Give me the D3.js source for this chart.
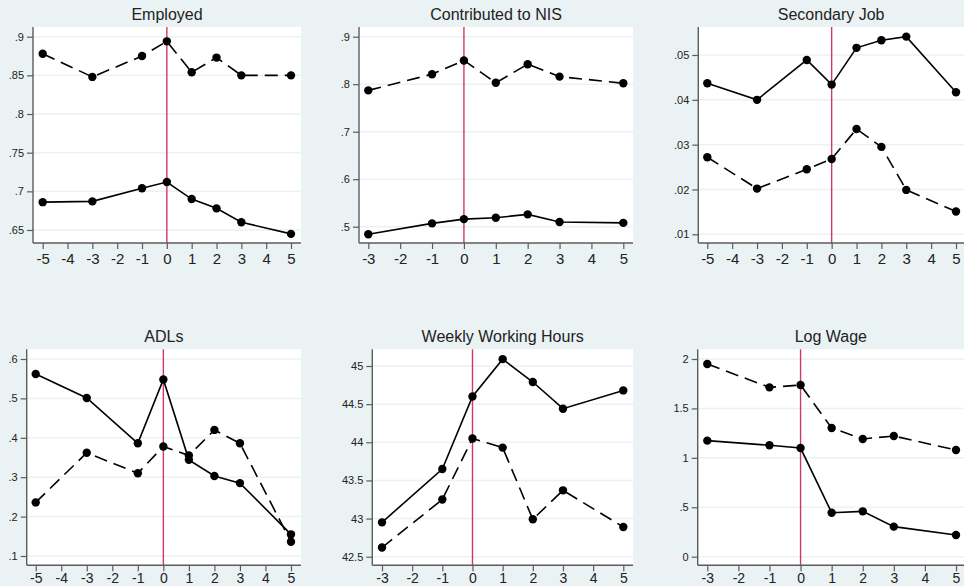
<!DOCTYPE html>
<html>
<head>
<meta charset="utf-8">
<script src="https://cdn.jsdelivr.net/npm/d3@7"></script>
<style>
  body { margin: 0; background: #eaf2f3; }
  svg { display: block; font-family: "Liberation Sans", Arial, sans-serif; }
</style>
</head>
<body>
<div id="chart"></div>
<script>
// panel titles
const titles = ["Employed", "Contributed to NIS", "Secondary Job", "ADLs", "Weekly Working Hours", "Log Wage"];

// event time (x) for each panel
const xLong = [-5, -3, -1, 0, 1, 2, 3, 5];
const xShort = [-3, -1, 0, 1, 2, 3, 5];

// series values
const employedSolid = [0.686, 0.687, 0.704, 0.712, 0.690, 0.678, 0.660, 0.645];
const employedDashed = [0.878, 0.848, 0.875, 0.894, 0.854, 0.873, 0.850, 0.850];

const nisSolid = [0.484, 0.507, 0.516, 0.519, 0.526, 0.510, 0.508];
const nisDashed = [0.787, 0.821, 0.850, 0.803, 0.842, 0.816, 0.802];

const secondarySolid = [0.0437, 0.0400, 0.0489, 0.0434, 0.0516, 0.0533, 0.0541, 0.0417];
const secondaryDashed = [0.0272, 0.0202, 0.0245, 0.0268, 0.0335, 0.0295, 0.0199, 0.0151];

const adlSolid = [0.562, 0.501, 0.386, 0.548, 0.344, 0.303, 0.285, 0.155];
const adlDashed = [0.236, 0.362, 0.310, 0.378, 0.355, 0.420, 0.386, 0.136];

const hoursSolid = [42.95, 43.65, 44.60, 45.09, 44.79, 44.44, 44.68];
const hoursDashed = [42.62, 43.25, 44.05, 43.93, 42.99, 43.37, 42.89];

const wageSolid = [1.174, 1.127, 1.099, 0.445, 0.459, 0.304, 0.219];
const wageDashed = [1.949, 1.713, 1.737, 1.302, 1.191, 1.221, 1.079];

// axis ticks
const xTicksLong = [-5, -4, -3, -2, -1, 0, 1, 2, 3, 4, 5];
const xTicksShort = [-3, -2, -1, 0, 1, 2, 3, 4, 5];
const yTicksEmployed = [0.65, 0.7, 0.75, 0.8, 0.85, 0.9];
const yTicksNis = [0.5, 0.6, 0.7, 0.8, 0.9];
const yTicksSecondary = [0.01, 0.02, 0.03, 0.04, 0.05];
const yTicksAdl = [0.1, 0.2, 0.3, 0.4, 0.5, 0.6];
const yTicksHours = [42.5, 43, 43.5, 44, 44.5, 45];
const yTicksWage = [0, 0.5, 1, 1.5, 2];

const width = 964, height = 586;

// where each plot region sits (pixels): axis x, right edge, top, bottom axis,
// and the pixel positions of first/last x tick and first/last y tick
const panels = [
  { title: titles[0], x: xLong, solid: employedSolid, dashed: employedDashed, xt: xTicksLong, yt: yTicksEmployed,
    left: 33, right: 301, top: 27, bottom: 243, px: [42.7, 291], py: [230, 36.7] },
  { title: titles[1], x: xShort, solid: nisSolid, dashed: nisDashed, xt: xTicksShort, yt: yTicksNis,
    left: 359, right: 633, top: 27, bottom: 243, px: [368.3, 623.3], py: [226.7, 36.7] },
  { title: titles[2], x: xLong, solid: secondarySolid, dashed: secondaryDashed, xt: xTicksLong, yt: yTicksSecondary,
    left: 698.3, right: 964, top: 27, bottom: 243, px: [707.3, 956], py: [234.3, 55] },
  { title: titles[3], x: xLong, solid: adlSolid, dashed: adlDashed, xt: xTicksLong, yt: yTicksAdl,
    left: 26.7, right: 301, top: 349.3, bottom: 565.3, px: [35.7, 291], py: [556, 359] },
  { title: titles[4], x: xShort, solid: hoursSolid, dashed: hoursDashed, xt: xTicksShort, yt: yTicksHours,
    left: 372.3, right: 633, top: 349.3, bottom: 565.3, px: [382, 623.3], py: [556.7, 366] },
  { title: titles[5], x: xShort, solid: wageSolid, dashed: wageDashed, xt: xTicksShort, yt: yTicksWage,
    left: 697.7, right: 964, top: 349.3, bottom: 565.3, px: [707.3, 956], py: [556.7, 359] }
];

const fmt = d => d === 0 ? "0" : String(d).replace(/^0\./, ".");

const svg = d3.select("#chart").append("svg")
  .attr("width", width)
  .attr("height", height);

svg.append("rect").attr("width", width).attr("height", height).attr("fill", "#eaf2f3");

panels.forEach((p, k) => {
  const g = svg.append("g");
  const x = d3.scaleLinear()
    .domain([p.xt[0], p.xt[p.xt.length - 1]])
    .range(p.px);
  const y = d3.scaleLinear()
    .domain([p.yt[0], p.yt[p.yt.length - 1]])
    .range(p.py);

  g.append("rect")
    .attr("x", p.left).attr("y", p.top)
    .attr("width", p.right - p.left).attr("height", p.bottom - p.top)
    .attr("fill", "#fff");

  // gridlines
  g.selectAll("line.grid")
    .data(p.yt)
    .enter().append("line")
    .attr("class", "grid")
    .attr("x1", p.left).attr("x2", p.right)
    .attr("y1", d => y(d)).attr("y2", d => y(d))
    .attr("stroke", "#eaf2f3")
    .attr("stroke-width", 1.5);

  // event line at 0
  g.append("line")
    .attr("x1", x(0)).attr("x2", x(0))
    .attr("y1", p.top).attr("y2", p.bottom)
    .attr("stroke", "#d03a60")
    .attr("stroke-width", 1.4);

  const line = d3.line()
    .x(d => x(d[0]))
    .y(d => y(d[1]));

  [[p.solid, null], [p.dashed, "13,7"]].forEach(([vals, dash]) => {
    const pts = p.x.map((v, i) => [v, vals[i]]);
    g.append("path")
      .datum(pts)
      .attr("fill", "none")
      .attr("stroke", "#000")
      .attr("stroke-width", 1.6)
      .attr("stroke-dasharray", dash)
      .attr("d", line);
    g.selectAll(null)
      .data(pts)
      .enter().append("circle")
      .attr("cx", d => x(d[0]))
      .attr("cy", d => y(d[1]))
      .attr("r", 4.2)
      .attr("fill", "#000");
  });

  // y axis
  const yAxis = g.append("g")
    .attr("transform", `translate(${p.left},0)`)
    .call(d3.axisLeft(y).tickValues(p.yt).tickFormat(fmt).tickSize(6).tickPadding(3).tickSizeOuter(0));
  yAxis.select(".domain").attr("d", `M0,${p.top}V${p.bottom}`);

  // x axis (bottom row sits close to the page edge)
  const lowRow = k >= 3;
  const xAxis = g.append("g")
    .attr("transform", `translate(0,${p.bottom})`)
    .call(d3.axisBottom(x).tickValues(p.xt).tickFormat(d => String(d))
      .tickSize(6).tickPadding(lowRow ? 2 : 4).tickSizeOuter(0));
  xAxis.select(".domain").attr("d", `M${p.left},0H${p.right}`);

  [yAxis, xAxis].forEach(a => {
    a.select(".domain").attr("stroke", "#5c5c5c").attr("stroke-width", 1.4);
    a.selectAll(".tick line").attr("stroke", "#5c5c5c").attr("stroke-width", 1.2);
    a.selectAll("text").attr("fill", "#222").style("font-family", '"Liberation Sans", Arial, sans-serif');
  });
  yAxis.selectAll("text").style("font-size", "11px");
  xAxis.selectAll("text").style("font-size", lowRow ? "14px" : "15px");

  g.append("text")
    .attr("x", (p.left + p.right) / 2)
    .attr("y", p.top - 7)
    .attr("text-anchor", "middle")
    .attr("font-size", "16px")
    .attr("fill", "#222")
    .text(p.title);
});
</script>
</body>
</html>
